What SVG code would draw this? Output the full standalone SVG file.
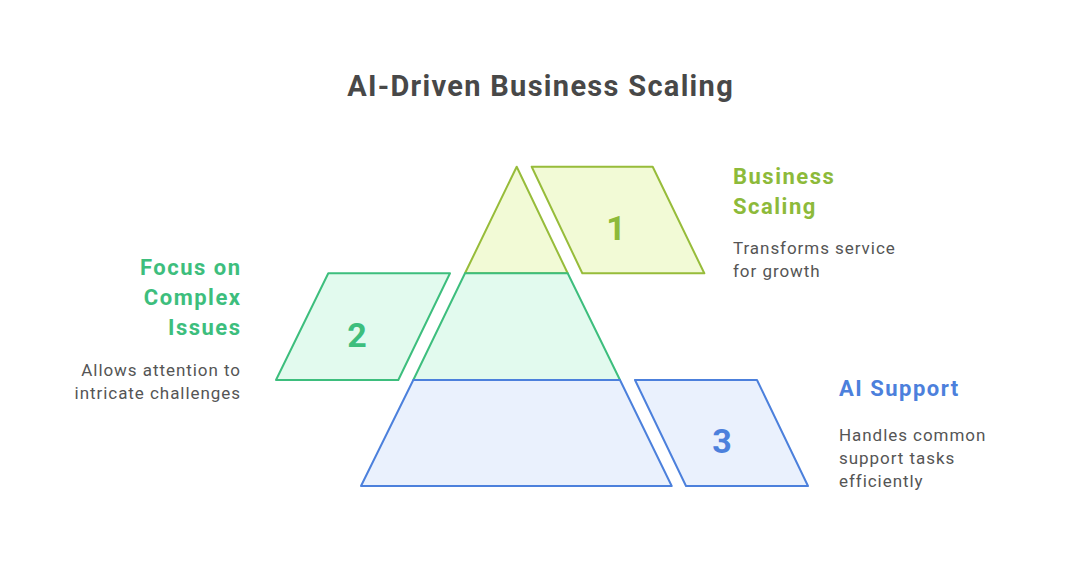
<svg xmlns="http://www.w3.org/2000/svg" width="1080" height="578" viewBox="0 0 1080 578">
<style>
.title{font-family:Roboto,"Liberation Sans",sans-serif;font-weight:700;font-size:29px;letter-spacing:1.3px;fill:#484848}
.head{font-family:Roboto,"Liberation Sans",sans-serif;font-weight:700;font-size:22px;letter-spacing:1.5px}
.desc{font-family:Roboto,"Liberation Sans",sans-serif;font-size:17px;letter-spacing:0.95px;fill:#555555}
.num{font-family:Roboto,"Liberation Sans",sans-serif;font-weight:700;font-size:34px;text-anchor:middle}
.s1{fill:#F2FAD6;stroke:#97BC3A;stroke-width:2;stroke-linejoin:round}
.s2{fill:#E2FAEE;stroke:#3DBE7D;stroke-width:2;stroke-linejoin:round}
.s3{fill:#EAF1FD;stroke:#4C80DC;stroke-width:2;stroke-linejoin:round}
.c1{fill:#8DBA3A}
.c2{fill:#3DBE7D}
.c3{fill:#4C80DC}
</style>
<rect width="1080" height="578" fill="#ffffff"/>
<text class="title" x="540.6" y="96" text-anchor="middle">AI-Driven Business Scaling</text>
<g id="tier1">
<polygon class="s1" points="516.7,166.7 567.7,273.3 465,273.3"/>
<polygon class="s1" points="531.7,166.7 652.7,166.7 704.3,273.3 582.3,273.3"/>
<text class="num c1" x="616" y="240">1</text>
<text class="head c1" x="733" y="184">Business</text>
<text class="head c1" x="733" y="214">Scaling</text>
<text class="desc" x="733" y="253.5">Transforms service</text>
<text class="desc" x="733" y="276.5">for growth</text>
</g>
<g id="tier2">
<polygon class="s2" points="465,273.3 567.7,273.3 620,380 413.3,380"/>
<polygon class="s2" points="328.3,273.3 450,273.3 398.3,380 276,380"/>
<text class="num c2" x="357" y="347">2</text>
<text class="head c2" x="241.5" y="275" text-anchor="end">Focus on</text>
<text class="head c2" x="241.5" y="305" text-anchor="end">Complex</text>
<text class="head c2" x="241.5" y="335" text-anchor="end">Issues</text>
<text class="desc" x="241" y="375.5" text-anchor="end">Allows attention to</text>
<text class="desc" x="241" y="398.5" text-anchor="end">intricate challenges</text>
</g>
<g id="tier3">
<polygon class="s3" points="413.3,380 620,380 671.7,486 361,486"/>
<polygon class="s3" points="635,380 757,380 808,486 686,486"/>
<text class="num c3" x="722" y="453">3</text>
<text class="head c3" x="839" y="396">AI Support</text>
<text class="desc" x="839" y="440.5">Handles common</text>
<text class="desc" x="839" y="463.5">support tasks</text>
<text class="desc" x="839" y="486.5">efficiently</text>
</g>
<g id="connectors"></g>
</svg>
